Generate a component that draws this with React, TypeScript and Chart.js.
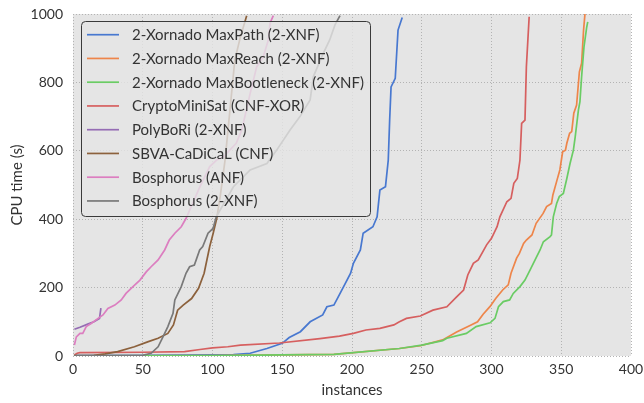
import React, { useEffect, useRef } from "react";
import { Chart, registerables } from "chart.js";
Chart.register(...registerables);

const seriesLabels = [
  "2-Xornado MaxPath (2-XNF)",
  "2-Xornado MaxReach (2-XNF)",
  "2-Xornado MaxBootleneck (2-XNF)",
  "CryptoMiniSat (CNF-XOR)",
  "PolyBoRi (2-XNF)",
  "SBVA-CaDiCaL (CNF)",
  "Bosphorus (ANF)",
  "Bosphorus (2-XNF)",
];
const seriesColors = ["#4878D0", "#EE854A", "#6ACC64", "#D65F5F", "#956CB4", "#8C613C", "#DC7EC0", "#797979"];

const xTicks = [0, 50, 100, 150, 200, 250, 300, 350, 400];
const yTicks = [0, 200, 400, 600, 800, 1000];

const maxPathX = [1, 50, 100, 115, 127, 139, 150, 155, 163, 170, 179, 182, 187, 189, 194, 199, 201, 206, 208, 215, 218, 220, 224, 226, 227, 228, 231, 233, 236];
const maxPathY = [1, 2, 3, 4, 8, 22, 37, 54, 71, 100, 120, 144, 149, 164, 203, 242, 271, 310, 359, 378, 407, 485, 495, 573, 690, 787, 812, 953, 990];

const maxReachX = [1, 100, 150, 187, 234, 249, 265, 275, 285, 290, 294, 299, 303, 308, 312, 314, 318, 320, 323, 325, 329, 332, 337, 339.5, 343, 344, 347, 349, 351, 353, 354, 356, 357.5, 359, 361, 363, 364.6, 366, 367];
const maxReachY = [0.5, 1, 3, 5, 22, 30, 47, 70, 90, 100, 122, 145, 168, 193, 208, 242, 286, 300, 329, 339, 354, 388, 417, 437, 446, 471, 515, 544, 597, 602, 622, 651, 656, 710, 734, 831, 856, 953, 1000];

const maxBottleneckX = [1, 100, 150, 187, 234, 250, 265, 268, 282, 289, 299, 302.5, 305, 308.5, 313, 315.6, 320.4, 324, 327.6, 330, 334.8, 337.2, 342, 343, 344.3, 346.7, 348.6, 351.5, 354, 356.3, 358.7, 360, 362.3, 363.4, 364.6, 366.3, 368.2, 369];
const maxBottleneckY = [0.5, 1, 3, 5, 22, 32, 45, 52, 66, 86, 97, 110, 144, 159, 164, 183, 203, 222, 251, 271, 310, 334, 349, 354, 407, 446, 466, 475, 519, 563, 602, 641, 719, 744, 817, 904, 960, 977];

const cmsX = [1, 3, 5, 50, 80, 91, 100, 111, 120, 148, 177, 191, 201, 210, 220, 230, 234, 239, 249, 258, 268, 275, 280, 283, 287, 290.5, 296.5, 300, 304, 306, 311, 314, 316, 318.5, 320.4, 321.6, 324, 325, 327];
const cmsY = [3, 8, 10, 11, 13, 19, 24, 27, 32, 38, 51, 58, 66, 76, 81, 91, 100, 110, 117, 134, 144, 173, 193, 237, 271, 281, 325, 344, 378, 407, 451, 461, 505, 519, 573, 680, 690, 846, 992];

const polyX = [1, 5, 11, 15, 19, 20];
const polyY = [78, 84, 94, 100, 110, 140];

const sbvaX = [1, 15, 23, 32, 44, 54, 61, 68, 72, 75, 79, 85, 90, 94, 98, 100.5, 103, 105.5, 109, 112.5, 116, 120, 124.5];
const sbvaY = [1, 2, 6, 13, 27, 42, 52, 66, 91, 134, 149, 168, 198, 242, 320, 359, 402, 466, 573, 719, 865, 933, 995];

const bosAnfX = [1, 2.4, 5, 7, 9.5, 13, 18, 21.5, 25, 30, 34.6, 38, 43, 48, 52.5, 56, 61, 65.7, 69, 73, 77.6, 81, 91, 98, 103, 108, 117, 121, 127, 131.7, 136.4, 140, 141.2, 143.6];
const bosAnfY = [32, 56, 66, 66, 86, 95, 110, 120, 139, 149, 164, 183, 203, 222, 246, 261, 281, 310, 339, 359, 378, 402, 495, 554, 573, 583, 622, 661, 768, 846, 875, 924, 973, 995];

const bosXnfX = [1, 30, 50, 56, 61, 64.5, 68, 71.7, 73, 77.6, 81, 83.6, 87, 90.8, 93, 96.8, 100.4, 102.7, 115, 127, 139, 146, 155.6, 162.7, 170, 172.3, 179.4, 184, 187.8, 191.4];
const bosXnfY = [1, 1, 2, 8, 27, 56, 86, 125, 164, 203, 242, 261, 266, 310, 320, 359, 373, 407, 495, 544, 563, 602, 661, 700, 749, 817, 885, 924, 968, 995];

const seriesX = [maxPathX, maxReachX, maxBottleneckX, cmsX, polyX, sbvaX, bosAnfX, bosXnfX];
const seriesY = [maxPathY, maxReachY, maxBottleneckY, cmsY, polyY, sbvaY, bosAnfY, bosXnfY];

const FONT = "Lato, 'DejaVu Sans', sans-serif";
const TEXT = "#333333";

const legendPlugin = {
  id: "boxLegend",
  afterDatasetsDraw(chart: any) {
    const ctx = chart.ctx as CanvasRenderingContext2D;
    const x0 = 81, y0 = 21, w = 289, h = 195;
    ctx.save();
    ctx.beginPath();
    (ctx as any).roundRect(x0 + 0.5, y0 + 0.5, w, h, 4);
    ctx.fillStyle = "rgba(229,229,229,0.8)";
    ctx.fill();
    ctx.strokeStyle = "#3a3a3a";
    ctx.lineWidth = 1;
    ctx.stroke();
    ctx.font = `15px ${FONT}`;
    ctx.textBaseline = "middle";
    ctx.textAlign = "left";
    seriesLabels.forEach((label, i) => {
      const y = 34.7 + i * 23.75;
      ctx.beginPath();
      ctx.moveTo(87, y);
      ctx.lineTo(119, y);
      ctx.strokeStyle = seriesColors[i];
      ctx.lineWidth = 1.7;
      ctx.stroke();
      ctx.fillStyle = TEXT;
      ctx.fillText(label, 132, y + 0.5);
    });
    ctx.restore();
  },
};

const bgPlugin = {
  id: "plotBg",
  beforeDraw(chart: any) {
    const { ctx, chartArea } = chart;
    ctx.save();
    ctx.fillStyle = "#e5e5e5";
    ctx.fillRect(chartArea.left, chartArea.top, chartArea.right - chartArea.left, chartArea.bottom - chartArea.top);
    ctx.restore();
  },
};

export default function App() {
  const ref = useRef<HTMLCanvasElement>(null);
  useEffect(() => {
    document.body.style.margin = "0";
    const datasets = seriesLabels.map((label, i) => ({
      label,
      data: seriesX[i].map((x, j) => ({ x, y: seriesY[i][j] })),
      borderColor: seriesColors[i],
      backgroundColor: seriesColors[i],
      borderWidth: 1.7,
      pointRadius: 0,
      tension: 0,
      fill: false,
      order: seriesLabels.length - i,
    }));
    const chart = new Chart(ref.current!, {
      type: "line",
      data: { datasets },
      plugins: [bgPlugin, legendPlugin],
      options: {
        animation: false,
        responsive: false,
        layout: { padding: { top: 14, right: 13, left: 0, bottom: 0 } },
        plugins: { legend: { display: false }, tooltip: { enabled: false } },
        scales: {
          x: {
            type: "linear",
            min: 0,
            max: 400,
            afterBuildTicks: (s: any) => { s.ticks = xTicks.map((v) => ({ value: v })); },
            afterFit: (s: any) => { s.height = 47; s.paddingLeft = 0; s.paddingRight = 0; },
            grid: { color: "#b3b3b3", lineWidth: 1, drawTicks: false },
            border: { display: false, dash: [1, 2] },
            ticks: { padding: 5, color: TEXT, font: { family: FONT, size: 14 }, maxRotation: 0, callback: (v: any) => String(v) },
            title: { display: true, text: "instances", color: TEXT, font: { family: FONT, size: 15 }, padding: { top: 0, bottom: 4 } },
          },
          y: {
            type: "linear",
            min: 0,
            max: 1000,
            afterBuildTicks: (s: any) => { s.ticks = yTicks.map((v) => ({ value: v })); },
            afterFit: (s: any) => { s.width = 73; s.paddingTop = 0; s.paddingBottom = 0; },
            grid: { color: "#b3b3b3", lineWidth: 1, drawTicks: false },
            border: { display: false, dash: [1, 2] },
            ticks: { padding: 10, color: TEXT, font: { family: FONT, size: 14 }, callback: (v: any) => String(v) },
            title: { display: true, text: "CPU time (s)", color: TEXT, font: { family: FONT, size: 15 }, padding: { top: 8, bottom: 0 } },
          },
        },
      },
    });
    return () => chart.destroy();
  }, []);
  return (
    <div style={{ position: "fixed", left: 0, top: 0 }}>
      <canvas ref={ref} width={644} height={403} />
    </div>
  );
}
